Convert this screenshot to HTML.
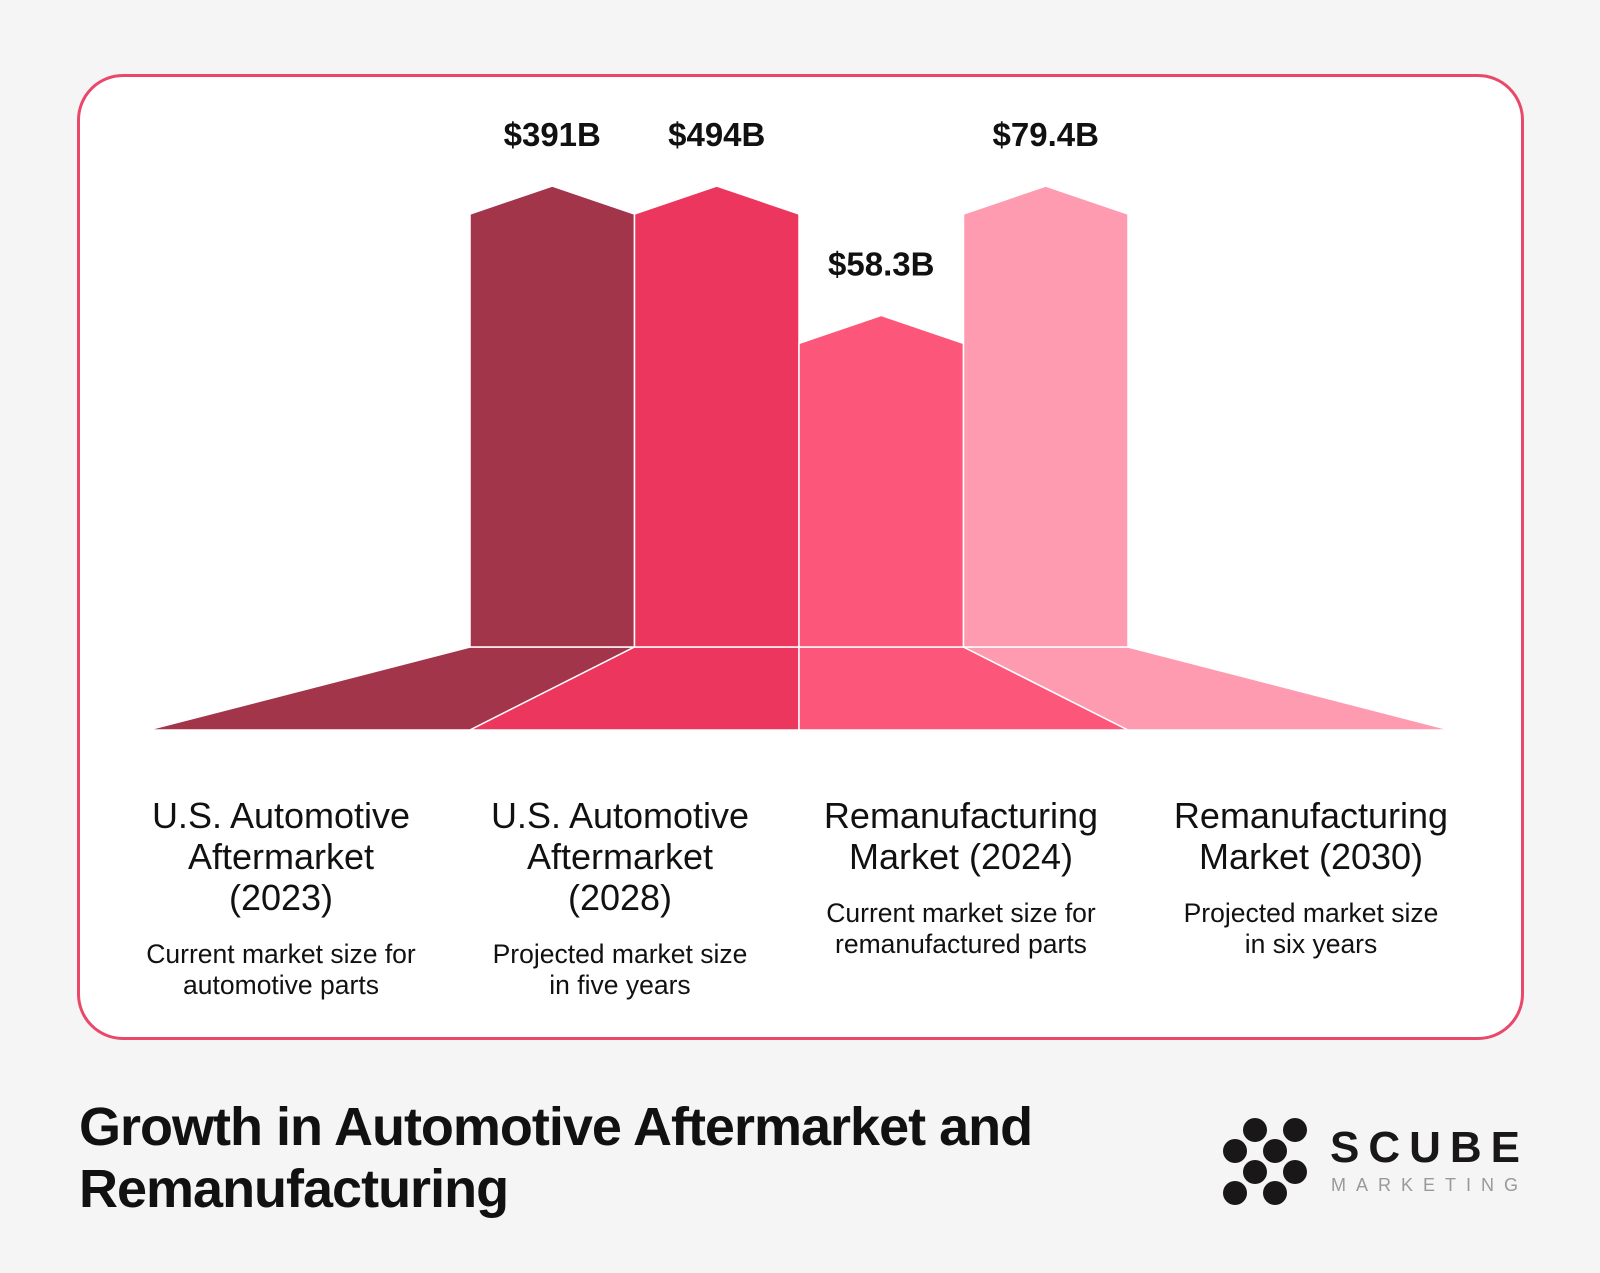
<!DOCTYPE html>
<html><head><meta charset="utf-8"><style>
html,body{margin:0;padding:0;width:1600px;height:1273px;background:#f5f5f5;overflow:hidden;font-family:"Liberation Sans",Arial,sans-serif;}
#card{position:absolute;left:77px;top:74px;width:1441px;height:960px;border:3px solid #e9486a;border-radius:46px;background:#fff;}
svg{position:absolute;left:0;top:0;}
.title{position:absolute;left:79px;top:1096px;font-size:54px;font-weight:bold;line-height:62px;color:#111;letter-spacing:-1px;}
</style></head><body>
<div id="card"></div>
<svg id="chart" width="1600" height="1273"></svg>
<div class="title">Growth in Automotive Aftermarket and<br>Remanufacturing</div>
<svg width="1600" height="1273" style="pointer-events:none">
<g fill="#1a1718">
<circle cx="1255" cy="1130" r="12"/><circle cx="1295" cy="1130" r="12"/>
<circle cx="1235" cy="1151" r="12"/><circle cx="1275" cy="1151" r="12"/>
<circle cx="1255" cy="1172" r="12"/><circle cx="1295" cy="1172" r="12"/>
<circle cx="1235" cy="1193" r="12"/><circle cx="1275" cy="1193" r="12"/>
</g>
<text x="1330" y="1162" font-family="Liberation Sans, sans-serif" font-size="44" font-weight="bold" letter-spacing="9" fill="#1a1718">SCUBE</text>
<text x="1331" y="1191" font-family="Liberation Sans, sans-serif" font-size="18" letter-spacing="10" fill="#999">MARKETING</text>
</svg>
<script>
const categories=["U.S. Automotive Aftermarket (2023)","U.S. Automotive Aftermarket (2028)","Remanufacturing Market (2024)","Remanufacturing Market (2030)"];
const values=[391,494,58.3,79.4];
const labels=["$391B","$494B","$58.3B","$79.4B"];
const groups=[0,0,1,1];
const groupRef=[391,79.4];
const titleLines=[["U.S. Automotive","Aftermarket","(2023)"],["U.S. Automotive","Aftermarket","(2028)"],["Remanufacturing","Market (2024)"],["Remanufacturing","Market (2030)"]];
const subLines=[["Current market size for","automotive parts"],["Projected market size","in five years"],["Current market size for","remanufactured parts"],["Projected market size","in six years"]];
const colors=["#a3354b","#ec365e","#fc577a","#ff9bb0"];

const svg=document.getElementById('chart');
const NS="http://www.w3.org/2000/svg";
const x0=470,bw=164.5,baseY=647,fullH=433,peak=28,botY=730,botL=148,botR=1450;
const labelX=[281,620,961,1311];
function xL(i){return x0+i*bw;}
function yTop(i){const r=Math.pow(Math.min(1,values[i]/groupRef[groups[i]]),1.15);return baseY-r*fullH;}
function mk(tag,attrs){const e=document.createElementNS(NS,tag);for(const k in attrs)e.setAttribute(k,attrs[k]);svg.appendChild(e);return e;}
const botX=[botL,xL(0),xL(2),xL(4),botR];
for(let i=0;i<4;i++){
  const p=mk('polygon',{points:`${xL(i)},${baseY} ${xL(i+1)},${baseY} ${botX[i+1]},${botY} ${botX[i]},${botY}`,fill:colors[i],stroke:'#fff','stroke-width':1.5});
  
  
}
for(let i=0;i<4;i++){
  const l=xL(i),r=xL(i+1),t=yTop(i),c=(l+r)/2;
  const p=mk('polygon',{points:`${l},${baseY} ${l},${t} ${c},${t-peak} ${r},${t} ${r},${baseY}`,fill:colors[i],stroke:'#fff','stroke-width':1.5});
  
  
  const tx=mk('text',{x:c,y:t-68,'text-anchor':'middle','font-size':33,'font-weight':'bold',fill:'#111','font-family':'Liberation Sans, sans-serif'});
  tx.textContent=labels[i];
  
  
  const g=mk('text',{x:labelX[i],'text-anchor':'middle','font-size':36,fill:'#111','font-family':'Liberation Sans, sans-serif'});
  
  
  titleLines[i].forEach((s,j)=>{const ts=document.createElementNS(NS,'tspan');ts.setAttribute('x',labelX[i]);ts.setAttribute('y',828+j*41);ts.textContent=s;g.appendChild(ts);});
  const sb=mk('text',{x:labelX[i],'text-anchor':'middle','font-size':26.5,fill:'#111','font-family':'Liberation Sans, sans-serif'});
  
  
  const sy=828+titleLines[i].length*41+12;
  subLines[i].forEach((s,j)=>{const ts=document.createElementNS(NS,'tspan');ts.setAttribute('x',labelX[i]);ts.setAttribute('y',sy+j*31);ts.textContent=s;sb.appendChild(ts);});
}
</script>
</body></html>
